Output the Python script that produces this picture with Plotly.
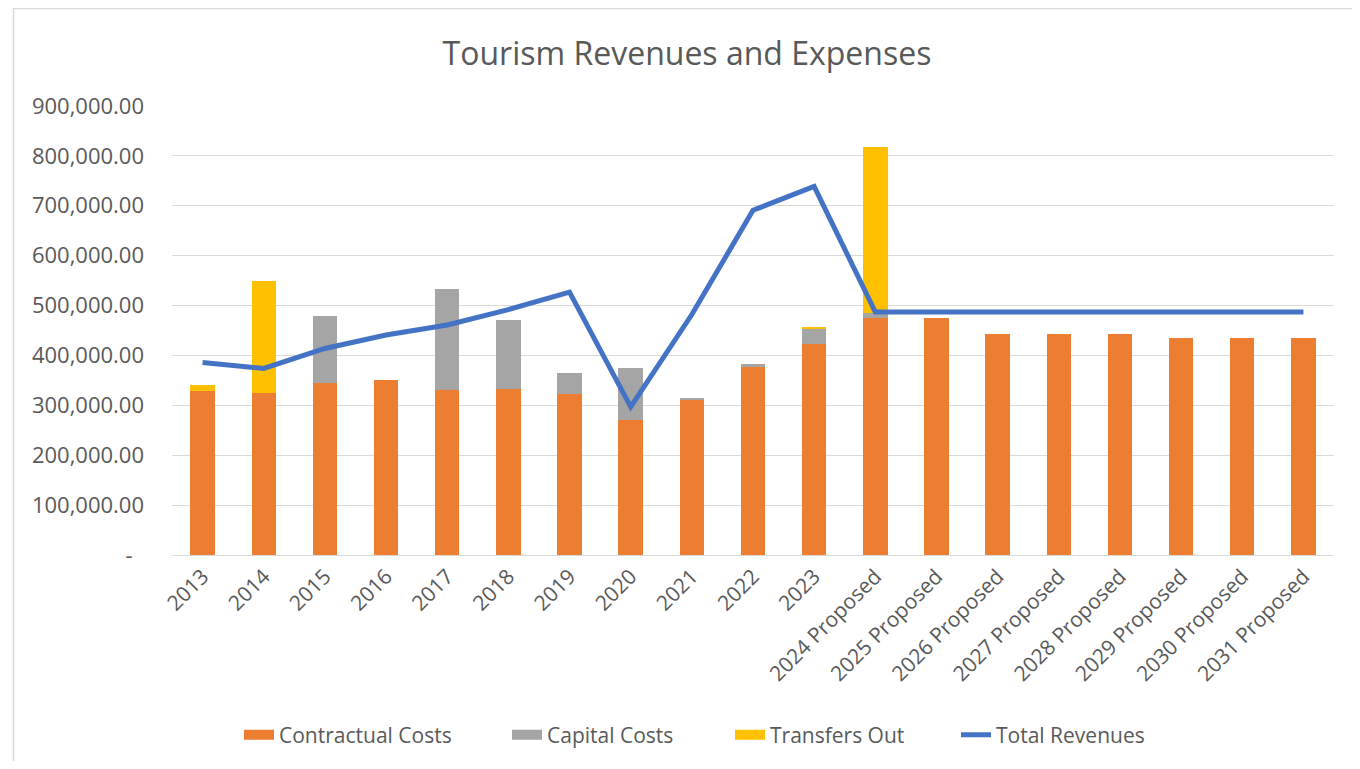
import plotly.graph_objects as go

# values
years = ["2013", "2014", "2015", "2016", "2017", "2018", "2019", "2020", "2021",
         "2022", "2023", "2024 Proposed", "2025 Proposed", "2026 Proposed",
         "2027 Proposed", "2028 Proposed", "2029 Proposed", "2030 Proposed",
         "2031 Proposed"]
contractual = [329000, 324000, 345000, 351000, 331000, 332000, 323000, 270000, 312000,
               377000, 423000, 476000, 476000, 443000, 443000, 443000, 435000, 435000, 435000]
capital = [0, 0, 135000, 0, 203000, 140000, 41000, 105000, 3000,
           5000, 30000, 10000, 0, 0, 0, 0, 0, 0, 0]
transfers = [11000, 226000, 0, 0, 0, 0, 0, 0, 0,
             0, 4000, 332000, 0, 0, 0, 0, 0, 0, 0]
revenues = [386000, 374000, 414000, 441000, 461000, 492000, 527000, 297000, 482000,
            691000, 739000, 487000, 487000, 487000, 487000, 487000, 487000, 487000, 487000]

y_ticks = [0, 100000, 200000, 300000, 400000, 500000, 600000, 700000, 800000, 900000]
y_tick_text = ["-\u00a0\u00a0"] + [f"{v:,.2f}" for v in y_ticks[1:]]

FONT = "Open Sans, Noto Sans, sans-serif"
GREY_TEXT = "#595959"
COLORS = {"Contractual Costs": "#ED7D31", "Capital Costs": "#A5A5A5",
          "Transfers Out": "#FFC000"}
# legend entry widths (px) so the spacing matches the Excel legend
LEGEND_W = {"Contractual Costs": 223, "Capital Costs": 178, "Transfers Out": 181,
            "Total Revenues": 170}

fig = go.Figure()
for name, vals in [("Contractual Costs", contractual), ("Capital Costs", capital),
                   ("Transfers Out", transfers)]:
    fig.add_trace(go.Bar(x=years, y=vals, name=name, legendgroup=name, showlegend=False,
                         marker=dict(color=COLORS[name], line_width=0)))
fig.add_trace(go.Scatter(x=years, y=revenues, name="Total Revenues", mode="lines",
                         legendgroup="Total Revenues", showlegend=False,
                         line=dict(color="#4472C4", width=5)))

# legend entries drawn as wide swatches (Excel style)
for name in COLORS:
    fig.add_trace(go.Scatter(x=[None], y=[None], mode="lines", name=name, legendgroup=name,
                             legendwidth=LEGEND_W[name],
                             line=dict(color=COLORS[name], width=14)))
fig.add_trace(go.Scatter(x=[None], y=[None], mode="lines", name="Total Revenues",
                         legendgroup="Total Revenues", legendwidth=LEGEND_W["Total Revenues"],
                         line=dict(color="#4472C4", width=5)))

fig.update_layout(
    width=1344, height=753,
    barmode="stack", bargap=0.6,
    paper_bgcolor="white", plot_bgcolor="white",
    font=dict(family=FONT, color=GREY_TEXT, size=21),
    title=dict(text="Tourism Revenues and Expenses", x=679 / 1344, xanchor="center",
               y=1 - 46 / 753, yanchor="middle", font=dict(size=32, color=GREY_TEXT)),
    margin=dict(l=164, r=18, t=98, b=206),
    legend=dict(orientation="h", xref="container", yref="container",
                x=231 / 1344, xanchor="left", y=26 / 753, yanchor="middle",
                font=dict(size=21, color=GREY_TEXT), traceorder="normal",
                itemwidth=30),
    shapes=[dict(type="rect", xref="paper", yref="paper",
                 x0=-0.1364, x1=2, y0=-2, y1=1.2171,
                 line=dict(color="#D9D9D9", width=1.5))],
)
fig.update_xaxes(tickangle=-45, showgrid=False, showline=True, linecolor="#D9D9D9",
                 tickfont=dict(size=21, color=GREY_TEXT), ticks="", automargin=False)
fig.update_yaxes(range=[0, 900000], tickvals=y_ticks, ticktext=y_tick_text,
                 showgrid=True, gridcolor="#D9D9D9", gridwidth=1, zeroline=False,
                 tickfont=dict(size=22, color=GREY_TEXT), ticks="", ticklabelstandoff=27,
                 automargin=False)

fig.write_html("out.html")
